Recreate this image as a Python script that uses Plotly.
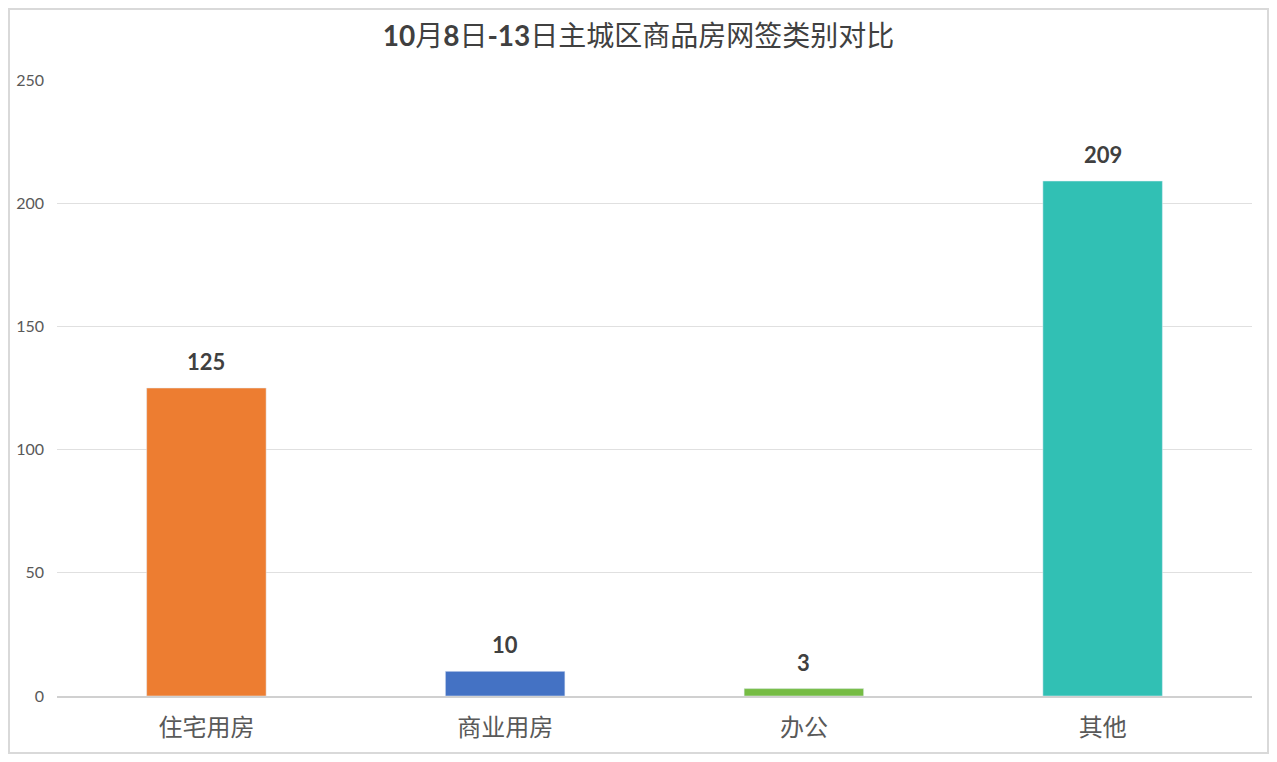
import plotly.graph_objects as go

categories = ["住宅用房", "商业用房", "办公", "其他"]
values = [125, 10, 3, 209]
colors = ["#ED7D31", "#4472C4", "#76BC44", "#31C0B4"]
y_ticks = [0, 50, 100, 150, 200, 250]
title = "<b>10</b>月<b>8</b>日<b>-13</b>日主城区商品房网签类别对比"

# page body has an 8px margin, so shrink the figure to fit the window
OFF = 8
W, H = 1277 - 2 * OFF, 762 - 2 * OFF
L, R, T, B = 57 - OFF, 25 - OFF, 80 - OFF, 66 - OFF

fig = go.Figure(go.Bar(x=categories, y=values, marker_color=colors, width=0.4,
                       hoverinfo="x+y"))

for c, v in zip(categories, values):
    fig.add_annotation(x=c, y=v, text=str(v), showarrow=False, yanchor="bottom",
                       yshift=11, font=dict(family="Lato, Noto Sans CJK SC", size=22,
                                            color="#404040", weight="bold"))

pw, ph = W - L - R, H - T - B
fig.add_shape(type="rect", xref="paper", yref="paper",
              x0=-(L - 1) / pw, x1=1 + (R - 1) / pw, y0=-(B - 1) / ph, y1=1 + (T - 1) / ph,
              line=dict(color="#D9D9D9", width=2), layer="below")

fig.update_layout(
    width=W, height=H, margin=dict(l=L, r=R, t=T, b=B),
    paper_bgcolor="white", plot_bgcolor="white",
    title=dict(text=title, x=0.5, xanchor="center", y=1 - (36 - OFF) / H, yanchor="middle",
               font=dict(family="Lato, Noto Sans CJK SC", size=28, color="#404040")),
    xaxis=dict(showgrid=False, showline=True, linecolor="#D0D0D0", linewidth=2,
               ticks="", tickfont=dict(family="Noto Sans CJK SC", size=24, color="#595959"),
               ticklabelstandoff=9, automargin=False),
    yaxis=dict(range=[0, 250], tickvals=y_ticks, showgrid=True, gridcolor="#E0E0E0",
               gridwidth=1, zeroline=False, showline=False, ticks="",
               ticklabelstandoff=12, automargin=False,
               tickfont=dict(family="Lato, Noto Sans", size=16, color="#595959")),
    showlegend=False,
)

fig.write_html("out.html")
